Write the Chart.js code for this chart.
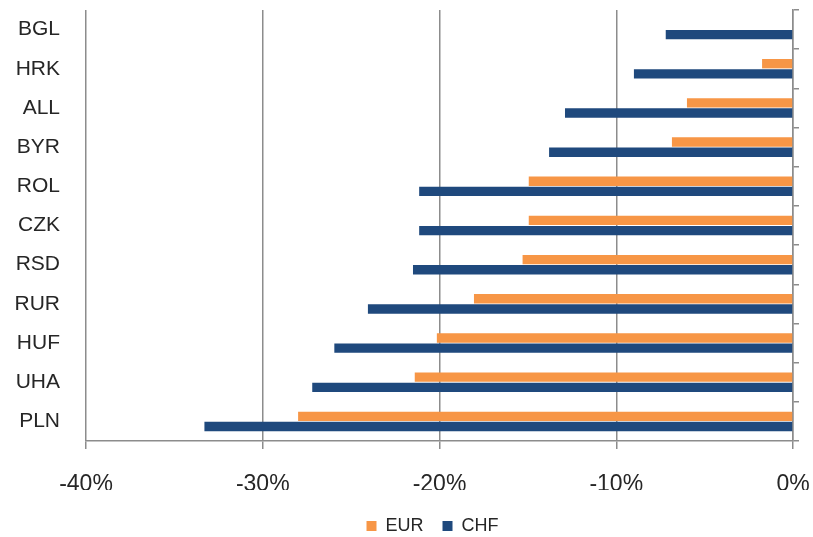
<!DOCTYPE html>
<html>
<head>
<meta charset="utf-8">
<script src="https://cdn.jsdelivr.net/npm/chart.js@4.4.1/dist/chart.umd.min.js"></script>
<style>
    html, body { margin: 0; padding: 0; background: #fff; }
    #wrap { width: 813px; height: 537px; }
</style>
</head>
<body>
<div id="wrap"><canvas id="fxChart" width="813" height="537"></canvas></div>
<script>
// Currencies, top to bottom
const currencies = ['BGL', 'HRK', 'ALL', 'BYR', 'ROL', 'CZK', 'RSD', 'RUR', 'HUF', 'UHA', 'PLN'];

// Change versus each currency, in %
const eurValues = [null, -1.75, -6.0, -6.85, -14.95, -14.95, -15.3, -18.05, -20.15, -21.4, -28.0];
const chfValues = [-7.2, -9.0, -12.9, -13.8, -21.15, -21.15, -21.5, -24.05, -25.95, -27.2, -33.3];

// Axis ticks
const xTicks = [-40, -30, -20, -10, 0];

const gridGrey = '#8c8c8c';
const textColor = '#262626';

// no label overhang padding, keep the plot box fixed
function noPadding(scale) {
    scale.paddingLeft = 0;
    scale.paddingRight = 0;
    scale.paddingTop = 0;
    scale.paddingBottom = 0;
}

// legend sits a little lower and right of centre in the original
const legendShift = {
    id: 'legendShift',
    afterLayout(chart) {
        const lg = chart.legend;
        lg.top += 8;
        lg.bottom += 8;
        lg.left += 26;
        lg.right += 26;
    }
};

const ctx = document.getElementById('fxChart').getContext('2d');

const myChart = new Chart(ctx, {
    type: 'bar',
    data: {
        labels: currencies,
        datasets: [
            {
                label: 'EUR',
                data: eurValues,
                backgroundColor: '#F79646',
                categoryPercentage: 0.52,
                barPercentage: 0.92
            },
            {
                label: 'CHF',
                data: chfValues,
                backgroundColor: '#1F497D',
                categoryPercentage: 0.52,
                barPercentage: 0.92
            }
        ]
    },
    plugins: [legendShift],
    options: {
        indexAxis: 'y',
        responsive: false,
        animation: false,
        layout: { padding: { top: 10, left: 0, right: 0, bottom: 0 } },
        plugins: {
            tooltip: { enabled: false },
            legend: {
                position: 'bottom',
                labels: {
                    boxWidth: 10,
                    boxHeight: 10,
                    padding: 19,
                    color: textColor,
                    font: { family: 'Liberation Sans', size: 18 }
                }
            }
        },
        scales: {
            x: {
                min: -40,
                max: 0,
                afterBuildTicks: (scale) => {
                    scale.ticks = xTicks.map(v => ({ value: v }));
                },
                afterFit: (scale) => { scale.height = 49; noPadding(scale); },
                grid: {
                    color: gridGrey,
                    lineWidth: 1.5,
                    tickLength: 8
                },
                border: { display: true, color: gridGrey, width: 1.5 },
                ticks: {
                    padding: 22,
                    color: textColor,
                    font: { family: 'Liberation Sans', size: 23 },
                    callback: (v) => v + '%'
                }
            },
            y: {
                position: 'left',
                afterFit: (scale) => { scale.width = 86; noPadding(scale); },
                grid: { display: false },
                border: { display: false },
                ticks: {
                    padding: 18,
                    color: textColor,
                    font: { family: 'Liberation Sans', size: 21 }
                }
            },
            y2: {
                type: 'category',
                axis: 'y',
                position: 'right',
                labels: currencies,
                offset: true,
                afterFit: (scale) => { scale.width = 20; noPadding(scale); },
                grid: {
                    offset: true,
                    drawOnChartArea: false,
                    color: gridGrey,
                    lineWidth: 1.5,
                    tickLength: 6
                },
                border: { display: true, color: gridGrey, width: 1.5 },
                ticks: { display: false }
            }
        }
    }
});
</script>
</body>
</html>
